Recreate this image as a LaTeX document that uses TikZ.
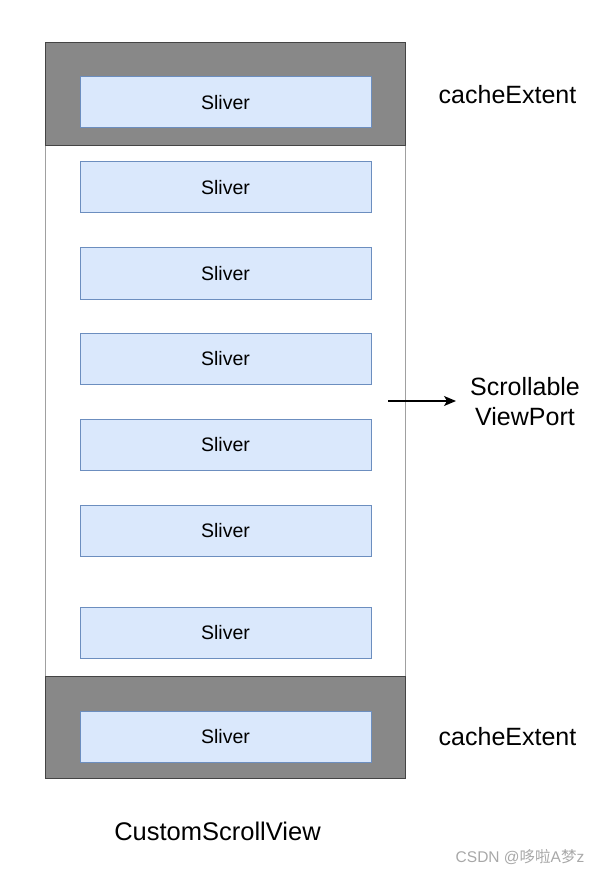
\documentclass[tikz,border=0pt]{standalone}
\usepackage{fontspec}
\setmainfont{Liberation Sans}
\newfontfamily\cjkfont{Noto Sans CJK SC}
\usetikzlibrary{arrows.meta}
\definecolor{bandgray}{HTML}{888888}
\definecolor{banddraw}{HTML}{444444}
\definecolor{vpdraw}{HTML}{A0A0A0}
\definecolor{slfill}{HTML}{DAE8FC}
\definecolor{sldraw}{HTML}{6C8EBF}
\definecolor{wmgray}{HTML}{A8A8A8}
\tikzset{
  band/.style={draw=banddraw, fill=bandgray, line width=0.8pt},
  viewport/.style={draw=vpdraw, fill=white, line width=0.8pt},
  sliver/.style={draw=sldraw, fill=slfill, line width=1pt, minimum width=291pt, minimum height=51pt, inner sep=0pt, font=\fontsize{19.5}{22}\selectfont},
  biglabel/.style={font=\fontsize{25}{30}\selectfont, align=center, inner sep=0pt},
  conn/.style={-{Stealth[length=12pt,width=10pt,inset=3pt]}, line width=1.2pt}
}
\begin{document}
\begin{tikzpicture}[x=1pt,y=-1pt]
\useasboundingbox (0,0) rectangle (600,874);
% containers
\draw[viewport] (45,145) rectangle (405,676);
\draw[band] (45,42) rectangle (405,145);
\draw[band] (45,676) rectangle (405,778);
% slivers
\node[sliver] (s1) at (225.5,102.5) {Sliver};
\node[sliver] (s2) at (225.5,187.5) {Sliver};
\node[sliver] (s3) at (225.5,273.5) {Sliver};
\node[sliver] (s4) at (225.5,358.5) {Sliver};
\node[sliver] (s5) at (225.5,444.5) {Sliver};
\node[sliver] (s6) at (225.5,530.5) {Sliver};
\node[sliver] (s7) at (225.5,633) {Sliver};
\node[sliver] (s8) at (225.5,736.5) {Sliver};
% labels
\node[biglabel] (ce1) at (507.5,95) {cacheExtent};
\node[biglabel] (ce2) at (507.5,737) {cacheExtent};
\node[biglabel] (vp) at (525,402) {Scrollable\\ViewPort};
\node[biglabel, font=\fontsize{25.5}{30}\selectfont] (csv) at (217.5,831) {CustomScrollView};
\node[font=\fontsize{15.5}{18}\selectfont, text=wmgray, inner sep=0pt] (wm) at (520,857) {CSDN @{\cjkfont 哆啦}A{\cjkfont 梦}z};
% arrow
\coordinate (as) at (388,401);
\coordinate (ae) at (456,401);
\draw[conn] (as) -- (ae);
\end{tikzpicture}
\end{document}
